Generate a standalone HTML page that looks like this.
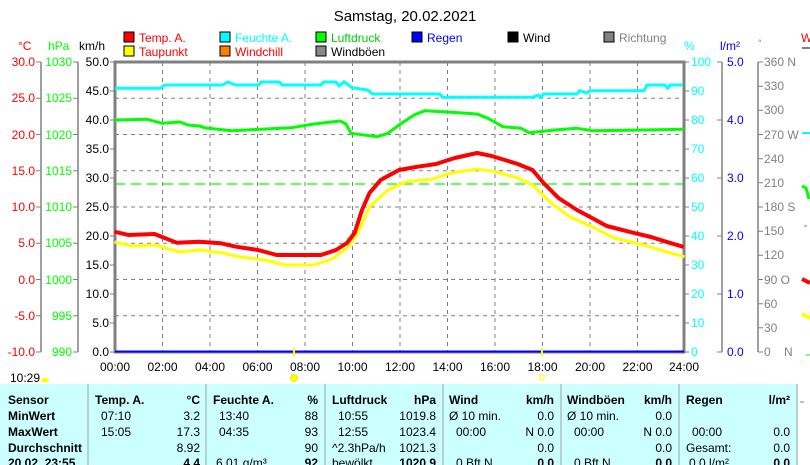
<!DOCTYPE html>
<html><head><meta charset="utf-8"><style>
html,body{margin:0;padding:0;background:#fff;width:810px;height:465px;overflow:hidden}
svg{display:block;font-family:"Liberation Sans",sans-serif}
</style></head><body>
<svg width="810" height="465" viewBox="0 0 810 465" xmlns="http://www.w3.org/2000/svg">
<rect width="810" height="465" fill="#fff"/>
<text x="405" y="21" font-size="15" text-anchor="middle" fill="#000">Samstag, 20.02.2021</text>
<!-- legend -->
<g font-size="12">
<rect x="124" y="32" width="10" height="10" fill="#f00" stroke="#000"/><text x="139" y="42" fill="#f00">Temp. A.</text>
<rect x="220" y="32" width="10" height="10" fill="#0ff" stroke="#000"/><text x="235" y="42" fill="#0ff">Feuchte A.</text>
<rect x="316" y="32" width="10" height="10" fill="#0f0" stroke="#000"/><text x="331" y="42" fill="#0c0">Luftdruck</text>
<rect x="412" y="32" width="10" height="10" fill="#00f" stroke="#000"/><text x="427" y="42" fill="#00f">Regen</text>
<rect x="508" y="32" width="10" height="10" fill="#000" stroke="#000"/><text x="523" y="42" fill="#000">Wind</text>
<rect x="604" y="32" width="10" height="10" fill="#808080" stroke="#000"/><text x="619" y="42" fill="#808080">Richtung</text>
<rect x="124" y="46" width="10" height="10" fill="#ff0" stroke="#000"/><text x="139" y="56" fill="#f00">Taupunkt</text>
<rect x="220" y="46" width="10" height="10" fill="#ff8000" stroke="#000"/><text x="235" y="56" fill="#f00">Windchill</text>
<rect x="316" y="46" width="10" height="10" fill="#888" stroke="#000"/><text x="331" y="56" fill="#000">Windböen</text>
<text x="18" y="50" fill="#f00">°C</text>
<text x="48" y="50" fill="#0f0">hPa</text>
<text x="79" y="50" fill="#000">km/h</text>
<text x="684" y="50" fill="#0ff">%</text>
<text x="720" y="50" fill="#00f">l/m²</text>
<text x="758" y="46" fill="#808080" font-size="9">°</text>
<text x="801" y="42" fill="#f00">W</text>
</g>
<line x1="802" y1="48" x2="810" y2="48" stroke="#808080" stroke-width="2"/>
<!-- grid -->
<g stroke="#808080" stroke-width="1" stroke-dasharray="4,4">
<line x1="115" y1="98.25" x2="684" y2="98.25"/><line x1="115" y1="134.5" x2="684" y2="134.5"/>
<line x1="115" y1="170.75" x2="684" y2="170.75"/><line x1="115" y1="207" x2="684" y2="207"/>
<line x1="115" y1="243.25" x2="684" y2="243.25"/><line x1="115" y1="279.5" x2="684" y2="279.5"/>
<line x1="115" y1="315.75" x2="684" y2="315.75"/>
<line x1="162.5" y1="62" x2="162.5" y2="352"/><line x1="210" y1="62" x2="210" y2="352"/>
<line x1="257.5" y1="62" x2="257.5" y2="352"/><line x1="305" y1="62" x2="305" y2="352"/>
<line x1="352.5" y1="62" x2="352.5" y2="352"/><line x1="400" y1="62" x2="400" y2="352"/>
<line x1="447.5" y1="62" x2="447.5" y2="352"/><line x1="495" y1="62" x2="495" y2="352"/>
<line x1="542.5" y1="62" x2="542.5" y2="352"/><line x1="590" y1="62" x2="590" y2="352"/>
<line x1="637.5" y1="62" x2="637.5" y2="352"/>
</g>
<line x1="115" y1="184" x2="684" y2="184" stroke="#0f0" stroke-width="1.3" stroke-dasharray="10,6"/>
<!-- axes lines -->
<g stroke="#808080" stroke-width="1.5" fill="none">
<line x1="41" y1="62" x2="41" y2="352"/><line x1="78" y1="62" x2="78" y2="352"/>
<line x1="722" y1="62" x2="722" y2="352"/><line x1="758" y1="62" x2="758" y2="352"/>
</g>
<rect x="115" y="62" width="569" height="290" fill="none" stroke="#808080" stroke-width="3"/>
<line x1="115" y1="351.5" x2="684" y2="351.5" stroke="#00f" stroke-width="2"/>
<!-- ticks -->
<g stroke="#808080" stroke-width="1">
<path d="M36 62h5M36 98.25h5M36 134.5h5M36 170.75h5M36 207h5M36 243.25h5M36 279.5h5M36 315.75h5M36 352h5"/>
<path d="M73 62h5M73 98.25h5M73 134.5h5M73 170.75h5M73 207h5M73 243.25h5M73 279.5h5M73 315.75h5M73 352h5"/>
<path d="M110 62h5M110 91h5M110 120h5M110 149h5M110 178h5M110 207h5M110 236h5M110 265h5M110 294h5M110 323h5M110 352h5"/>
<path d="M684 62h5M684 91h5M684 120h5M684 149h5M684 178h5M684 207h5M684 236h5M684 265h5M684 294h5M684 323h5M684 352h5"/>
<path d="M717 62h5M717 120h5M717 178h5M717 236h5M717 294h5M717 352h5"/>
<path d="M758 62h5M758 86.2h5M758 110.3h5M758 134.5h5M758 158.7h5M758 182.8h5M758 207h5M758 231.2h5M758 255.3h5M758 279.5h5M758 303.7h5M758 327.8h5M758 352h5"/>
</g>
<g font-size="12">
<g fill="#f00" text-anchor="end">
<text x="35" y="66">30.0</text><text x="35" y="102">25.0</text><text x="35" y="139">20.0</text><text x="35" y="175">15.0</text><text x="35" y="211">10.0</text><text x="35" y="247">5.0</text><text x="35" y="284">0.0</text><text x="35" y="320">-5.0</text><text x="35" y="356">-10.0</text>
</g>
<g fill="#0f0" text-anchor="end">
<text x="72" y="66">1030</text><text x="72" y="102">1025</text><text x="72" y="139">1020</text><text x="72" y="175">1015</text><text x="72" y="211">1010</text><text x="72" y="247">1005</text><text x="72" y="284">1000</text><text x="72" y="320">995</text><text x="72" y="356">990</text>
</g>
<g fill="#000" text-anchor="end">
<text x="109" y="66">50.0</text><text x="109" y="95">45.0</text><text x="109" y="124">40.0</text><text x="109" y="153">35.0</text><text x="109" y="182">30.0</text><text x="109" y="211">25.0</text><text x="109" y="240">20.0</text><text x="109" y="269">15.0</text><text x="109" y="298">10.0</text><text x="109" y="327">5.0</text><text x="109" y="356">0.0</text>
</g>
<g fill="#0ff">
<text x="691" y="66">100</text><text x="691" y="95">90</text><text x="691" y="124">80</text><text x="691" y="153">70</text><text x="691" y="182">60</text><text x="691" y="211">50</text><text x="691" y="240">40</text><text x="691" y="269">30</text><text x="691" y="298">20</text><text x="691" y="327">10</text><text x="691" y="356">0</text>
</g>
<g fill="#00f">
<text x="727" y="66">5.0</text><text x="727" y="124">4.0</text><text x="727" y="182">3.0</text><text x="727" y="240">2.0</text><text x="727" y="298">1.0</text><text x="727" y="356">0.0</text>
</g>
<g fill="#808080">
<text x="764" y="66">360 N</text><text x="764" y="90">330</text><text x="764" y="114">300</text><text x="764" y="139">270 W</text><text x="764" y="163">240</text><text x="764" y="187">210</text><text x="764" y="211">180 S</text><text x="764" y="235">150</text><text x="764" y="259">120</text><text x="764" y="284">90  O</text><text x="764" y="308">60</text><text x="764" y="332">30</text><text x="764" y="356">0</text><text x="784" y="356">N</text>
</g>
<g fill="#000" text-anchor="middle">
<text x="115" y="371">00:00</text><text x="162.5" y="371">02:00</text><text x="210" y="371">04:00</text><text x="257.5" y="371">06:00</text><text x="305" y="371">08:00</text><text x="352.5" y="371">10:00</text><text x="400" y="371">12:00</text><text x="447.5" y="371">14:00</text><text x="495" y="371">16:00</text><text x="542.5" y="371">18:00</text><text x="590" y="371">20:00</text><text x="637.5" y="371">22:00</text><text x="684" y="371">24:00</text>
</g>
<text x="10" y="382" fill="#000">10:29</text>
</g>
<!-- series -->
<g fill="none" stroke-linejoin="round">
<polyline stroke="#0ff" stroke-width="3" points="115,88.3 160,88.3 164.6,85 222.6,85 227.7,82 235.5,85 258.8,85 261,82 279.5,82 282,85 321,85 323.5,82 336,82 339,86 344,81.7 352,87.7 367.5,90 372.7,94 440,94 442.5,97.3 533,97.3 538,95 541,97.3 543.5,94 577,94 579.7,90.7 587,93 590,90.7 644,90.7 647,85 665,85 667.7,88.3 670,85 683,85"/>
<polyline stroke="#0f0" stroke-width="3" points="114.4,120 147,119.3 162,123.3 180,122 188,125 199,126 206,128 232,130.7 291.6,127.7 314,124 340,121 346,124 351,133.3 377,136.7 388,133.3 399,125 414,115 425,110.7 451,112.3 477,114 488,118.3 503,126.7 521,128.3 529,132.7 555,130 577,128.3 592,130.7 644,130 684,129.3"/>
<polyline stroke="#ff0" stroke-width="3" points="114.4,242 132,246 154.5,245 180,252 199,250 221,252.7 240,257 265.7,260 284,265 314,265 332,259 347,248 358,233 369.5,206.7 388,190 406.5,181.7 432,179 451,173 477,169 495.5,171.7 517.7,178 532.5,185 551,203 569.6,216.7 592,226.7 614,238 643.7,245 666,251.7 684.5,256.7"/>
<polyline stroke="#f00" stroke-width="4" points="114.4,231.7 128.5,235 154.5,234 176.7,242.7 199,241.7 221,243.3 236,246.7 258,250 276.8,255 321,255 336,250 347,243 354.6,233 362,210 369.5,193 380.6,180 399,170 417.6,166.7 436,164 454.7,158 477,153 491.8,156 517.7,164 532.5,170 543.6,183 558.5,198 577,210 592,218 606.7,226 629,231.7 651,237 666,241.7 683.8,247"/>
</g>
<!-- right side markers -->
<line x1="802" y1="133" x2="810" y2="133" stroke="#0ff" stroke-width="2"/>
<path d="M802 186 L806 188 L809 199" stroke="#0f0" stroke-width="3" fill="none"/>
<line x1="804" y1="226" x2="807" y2="226" stroke="#808080"/>
<line x1="802" y1="279" x2="810" y2="283" stroke="#f00" stroke-width="4"/>
<line x1="802" y1="314" x2="810" y2="318" stroke="#ff0" stroke-width="4"/>
<line x1="806" y1="355" x2="810" y2="355" stroke="#0f0"/>
<!-- sun markers -->
<line x1="294" y1="348" x2="294" y2="356" stroke="#ff0" stroke-width="2"/>
<line x1="542" y1="348" x2="542" y2="356" stroke="#ff0" stroke-width="2"/>
<circle cx="294" cy="378" r="3.5" fill="#ff0" stroke="#ee0"/>
<rect x="540" y="375" width="4" height="5" fill="none" stroke="#ff0"/>
<path d="M41 382 a4 4 0 0 1 8 0 z" fill="#ff0"/>
<!-- table -->
<rect x="0" y="384" width="810" height="81" fill="#ccffff"/>
<g stroke="#a0a0a0" stroke-width="1">
<line x1="88" y1="384" x2="88" y2="465"/><line x1="206" y1="384" x2="206" y2="465"/><line x1="325" y1="384" x2="325" y2="465"/><line x1="443" y1="384" x2="443" y2="465"/><line x1="561" y1="384" x2="561" y2="465"/><line x1="679" y1="384" x2="679" y2="465"/><line x1="797" y1="384" x2="797" y2="465"/>
</g>
<rect x="798" y="384" width="12" height="81" fill="#fff"/>
<line x1="800" y1="402" x2="804" y2="402" stroke="#808080"/>
<g font-size="12" fill="#000">
<g font-weight="bold">
<text x="8" y="404">Sensor</text><text x="8" y="420">MinWert</text><text x="8" y="436">MaxWert</text><text x="8" y="452">Durchschnitt</text><text x="8" y="467">20.02. 23:55</text>
<text x="95" y="404">Temp. A.</text><text x="200" y="404" text-anchor="end">°C</text>
<text x="213" y="404">Feuchte A.</text><text x="318" y="404" text-anchor="end">%</text>
<text x="332" y="404">Luftdruck</text><text x="436" y="404" text-anchor="end">hPa</text>
<text x="449" y="404">Wind</text><text x="554" y="404" text-anchor="end">km/h</text>
<text x="567" y="404">Windböen</text><text x="672" y="404" text-anchor="end">km/h</text>
<text x="686" y="404">Regen</text><text x="790" y="404" text-anchor="end">l/m²</text>
<text x="200" y="467" text-anchor="end">4.4</text><text x="318" y="467" text-anchor="end">92</text><text x="436" y="467" text-anchor="end">1020.9</text><text x="554" y="467" text-anchor="end">0.0</text><text x="672" y="467" text-anchor="end">0.0</text><text x="790" y="467" text-anchor="end">0.0</text>
</g>
<text x="101" y="420">07:10</text><text x="200" y="420" text-anchor="end">3.2</text>
<text x="101" y="436">15:05</text><text x="200" y="436" text-anchor="end">17.3</text>
<text x="200" y="452" text-anchor="end">8.92</text>
<text x="219" y="420">13:40</text><text x="318" y="420" text-anchor="end">88</text>
<text x="219" y="436">04:35</text><text x="318" y="436" text-anchor="end">93</text>
<text x="318" y="452" text-anchor="end">90</text>
<text x="216" y="467">6.01 g/m³</text>
<text x="338" y="420">10:55</text><text x="436" y="420" text-anchor="end">1019.8</text>
<text x="338" y="436">12:55</text><text x="436" y="436" text-anchor="end">1023.4</text>
<text x="332" y="452">^2.3hPa/h</text><text x="436" y="452" text-anchor="end">1021.3</text>
<text x="332" y="467">bewölkt</text>
<text x="449" y="420">Ø 10 min.</text><text x="554" y="420" text-anchor="end">0.0</text>
<text x="456" y="436">00:00</text><text x="554" y="436" text-anchor="end">N 0.0</text>
<text x="554" y="452" text-anchor="end">0.0</text>
<text x="456" y="467">0 Bft N</text>
<text x="567" y="420">Ø 10 min.</text><text x="672" y="420" text-anchor="end">0.0</text>
<text x="574" y="436">00:00</text><text x="672" y="436" text-anchor="end">N 0.0</text>
<text x="672" y="452" text-anchor="end">0.0</text>
<text x="574" y="467">0 Bft N</text>
<text x="692" y="436">00:00</text><text x="790" y="436" text-anchor="end">0.0</text>
<text x="686" y="452">Gesamt:</text><text x="790" y="452" text-anchor="end">0.0</text>
<text x="689" y="467">0.0 l/m²</text>
</g>
</svg>
</body></html>
